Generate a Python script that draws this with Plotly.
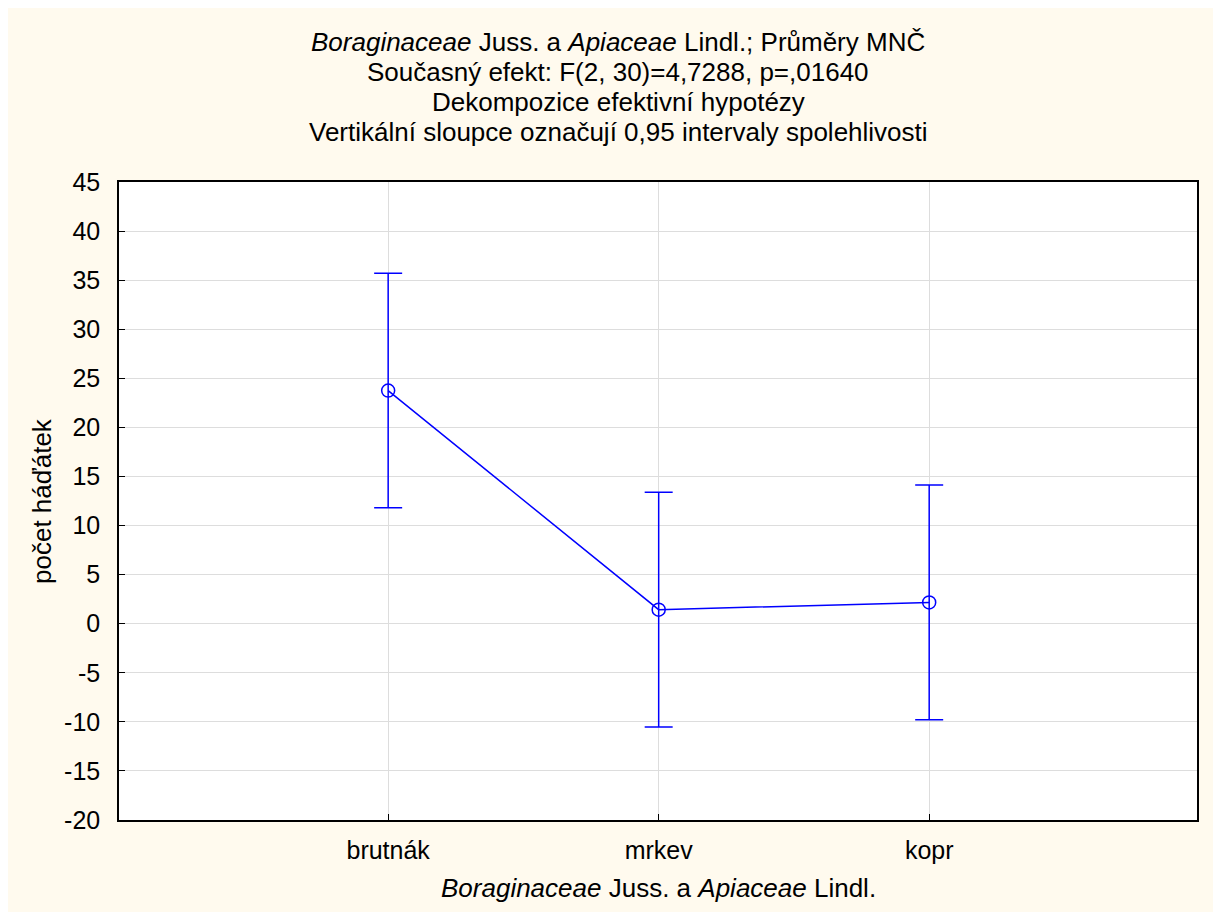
import plotly.graph_objects as go

# Least-squares means with 0.95 confidence half-widths
categories = ["brutnák", "mrkev", "kopr"]
means = [23.75, 1.43, 2.17]
ci_half = [11.95, 11.95, 11.95]

y_ticks = [-20, -15, -10, -5, 0, 5, 10, 15, 20, 25, 30, 35, 40, 45]
y_tick_text = [str(v) for v in y_ticks]

title_lines = [
    "<i>Boraginaceae</i> Juss. a <i>Apiaceae</i> Lindl.; Průměry MNČ",
    "Současný efekt: F(2, 30)=4,7288, p=,01640",
    "Dekompozice efektivní hypotézy",
    "Vertikální sloupce označují 0,95 intervaly spolehlivosti",
]
x_title = "<i>Boraginaceae</i> Juss. a <i>Apiaceae</i> Lindl."
y_title = "počet háďátek"

cream = "#FFFAEE"
blue = "#0000FF"
font_family = "Liberation Sans, Arial, sans-serif"

x_pos = list(range(len(categories)))

fig = go.Figure()
fig.add_trace(go.Scatter(
    x=x_pos,
    y=means,
    mode="lines+markers",
    line=dict(color=blue, width=1.5),
    marker=dict(symbol="circle-open", size=13, color=blue, line=dict(width=1.5, color=blue)),
    error_y=dict(type="data", array=ci_half, visible=True, color=blue, thickness=1.5, width=14),
    showlegend=False,
    hoverinfo="skip",
))

L, R, T, B = 119, 16, 182, 92
W, H = 1213, 912
pw, ph = W - L - R, H - T - B


def px_x(px):
    return (px - L) / pw


def px_y(py):
    return (H - B - py) / ph


# four-line heading, one annotation per line
for i, line in enumerate(title_lines):
    fig.add_annotation(
        text=line, xref="paper", yref="paper",
        x=px_x(618), y=px_y(42 + 30 * i), xanchor="center", yanchor="middle",
        showarrow=False, font=dict(family=font_family, size=26, color="black"),
    )

# axis titles
fig.add_annotation(
    text=x_title, xref="paper", yref="paper",
    x=0.5, y=px_y(888), xanchor="center", yanchor="middle",
    showarrow=False, font=dict(family=font_family, size=26, color="black"),
)
fig.add_annotation(
    text=y_title, xref="paper", yref="paper", textangle=-90,
    x=px_x(42), y=0.5, xanchor="center", yanchor="middle",
    showarrow=False, font=dict(family=font_family, size=26, color="black"),
)

# white strips along the top and left edges of the page
fig.add_shape(type="rect", xref="paper", yref="paper", layer="below",
              x0=px_x(0), x1=px_x(W), y0=px_y(8), y1=px_y(0),
              fillcolor="white", line=dict(width=0))
fig.add_shape(type="rect", xref="paper", yref="paper", layer="below",
              x0=px_x(0), x1=px_x(8), y0=px_y(H), y1=px_y(0),
              fillcolor="white", line=dict(width=0))

fig.update_layout(
    width=W, height=H,
    margin=dict(l=L, r=R, t=T, b=B),
    paper_bgcolor=cream,
    plot_bgcolor="white",
    font=dict(family=font_family, size=25, color="black"),
)

fig.update_xaxes(
    range=[-0.995, 2.99],
    tickvals=x_pos, ticktext=categories,
    showgrid=True, gridcolor="#DDDDDD", gridwidth=1,
    zeroline=False,
    showline=True, linecolor="black", linewidth=1.5, mirror=True,
    ticks="inside", ticklen=6, tickcolor="black",
    tickfont=dict(size=25), ticklabelstandoff=7,
)

fig.update_yaxes(
    range=[-20, 45],
    tickvals=y_ticks, ticktext=y_tick_text,
    showgrid=True, gridcolor="#DDDDDD", gridwidth=1,
    zeroline=False,
    showline=True, linecolor="black", linewidth=1.5, mirror=True,
    ticks="inside", ticklen=6, tickcolor="black",
    tickfont=dict(size=25), ticklabelstandoff=12,
)

fig.write_html("out.html")
